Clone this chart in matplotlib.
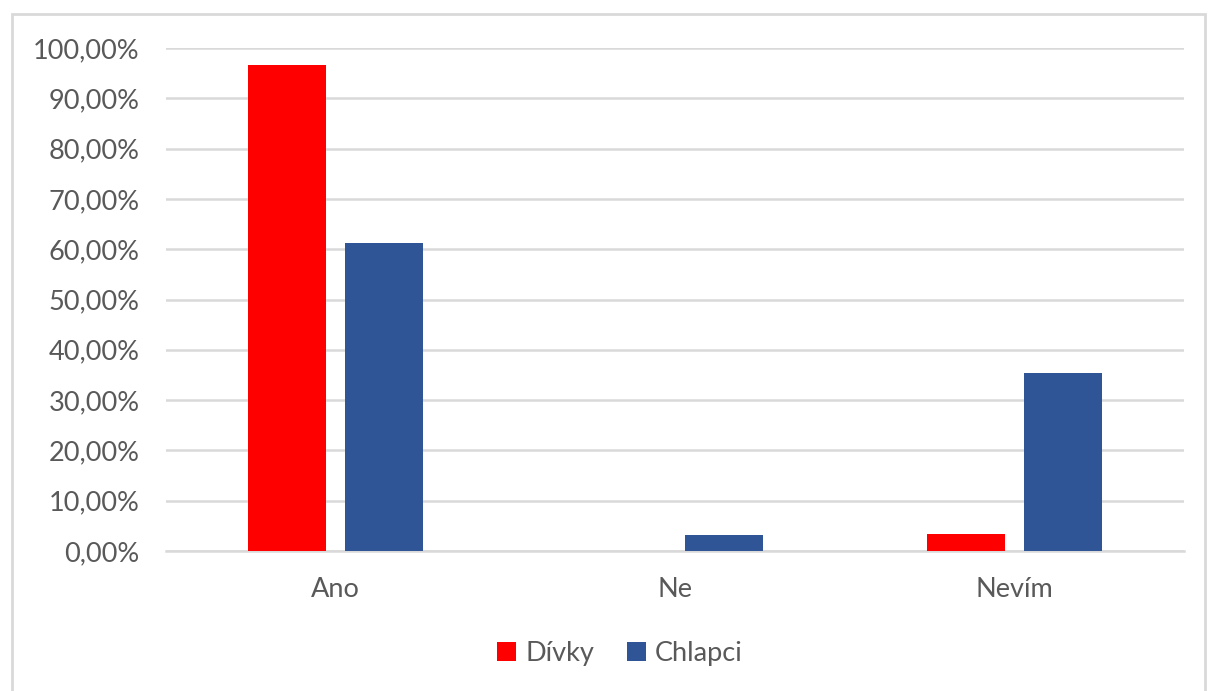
import numpy as np
import matplotlib.pyplot as plt
from matplotlib.patches import Rectangle
from matplotlib.ticker import FuncFormatter

# odpovedi a podily (v procentech)
kategorie = ['Ano', 'Ne', 'Nevím']
divky = [96.55, 0.0, 3.45]
chlapci = [61.29, 3.23, 35.48]
serie = ['Dívky', 'Chlapci']
barvy = ['#FF0000', '#2F5597']

plt.rcParams['font.family'] = ['Lato', 'DejaVu Sans']
sedy_text = '#595959'
mrizka = '#D9D9D9'

fig = plt.figure(figsize=(12.1, 6.91), dpi=100)
ax = fig.add_axes([166/1210, 1 - 551/691, (1184 - 166)/1210, (551 - 48)/691])

x = np.arange(len(kategorie))
w = 0.23
off = 0.143
ax.bar(x - off, divky, w, color=barvy[0], label=serie[0], zorder=3)
ax.bar(x + off, chlapci, w, color=barvy[1], label=serie[1], zorder=3)

ax.set_xlim(-0.5, 2.5)
ax.set_ylim(0, 100)
ax.set_yticks(np.arange(0, 101, 10))
ax.yaxis.set_major_formatter(FuncFormatter(lambda v, p: f'{v:.2f}%'.replace('.', ',')))
ax.set_xticks(x)
ax.set_xticklabels(kategorie)

ax.grid(axis='y', color=mrizka, linewidth=1.8, zorder=0)
for s in ['top', 'right', 'left']:
    ax.spines[s].set_visible(False)
ax.spines['bottom'].set_color(mrizka)
ax.spines['bottom'].set_linewidth(1.8)
ax.tick_params(axis='both', length=0, labelsize=19.5, colors=sedy_text)
ax.tick_params(axis='y', pad=19)
ax.tick_params(axis='x', pad=19)

leg = fig.legend(loc='center', bbox_to_anchor=(620/1210, 1 - 653/691), ncol=2,
                 frameon=False, fontsize=19.5, handlelength=0.7, handleheight=0.7,
                 handletextpad=0.35, columnspacing=1.2)
for t in leg.get_texts():
    t.set_color(sedy_text)

# ramecek kolem grafu
fig.patches.append(Rectangle((12/1210, -0.05), (1205 - 12)/1210, 1.05 - 14/691,
                             transform=fig.transFigure, fill=False,
                             edgecolor=mrizka, linewidth=2))

fig.savefig('out.png', dpi=100)
